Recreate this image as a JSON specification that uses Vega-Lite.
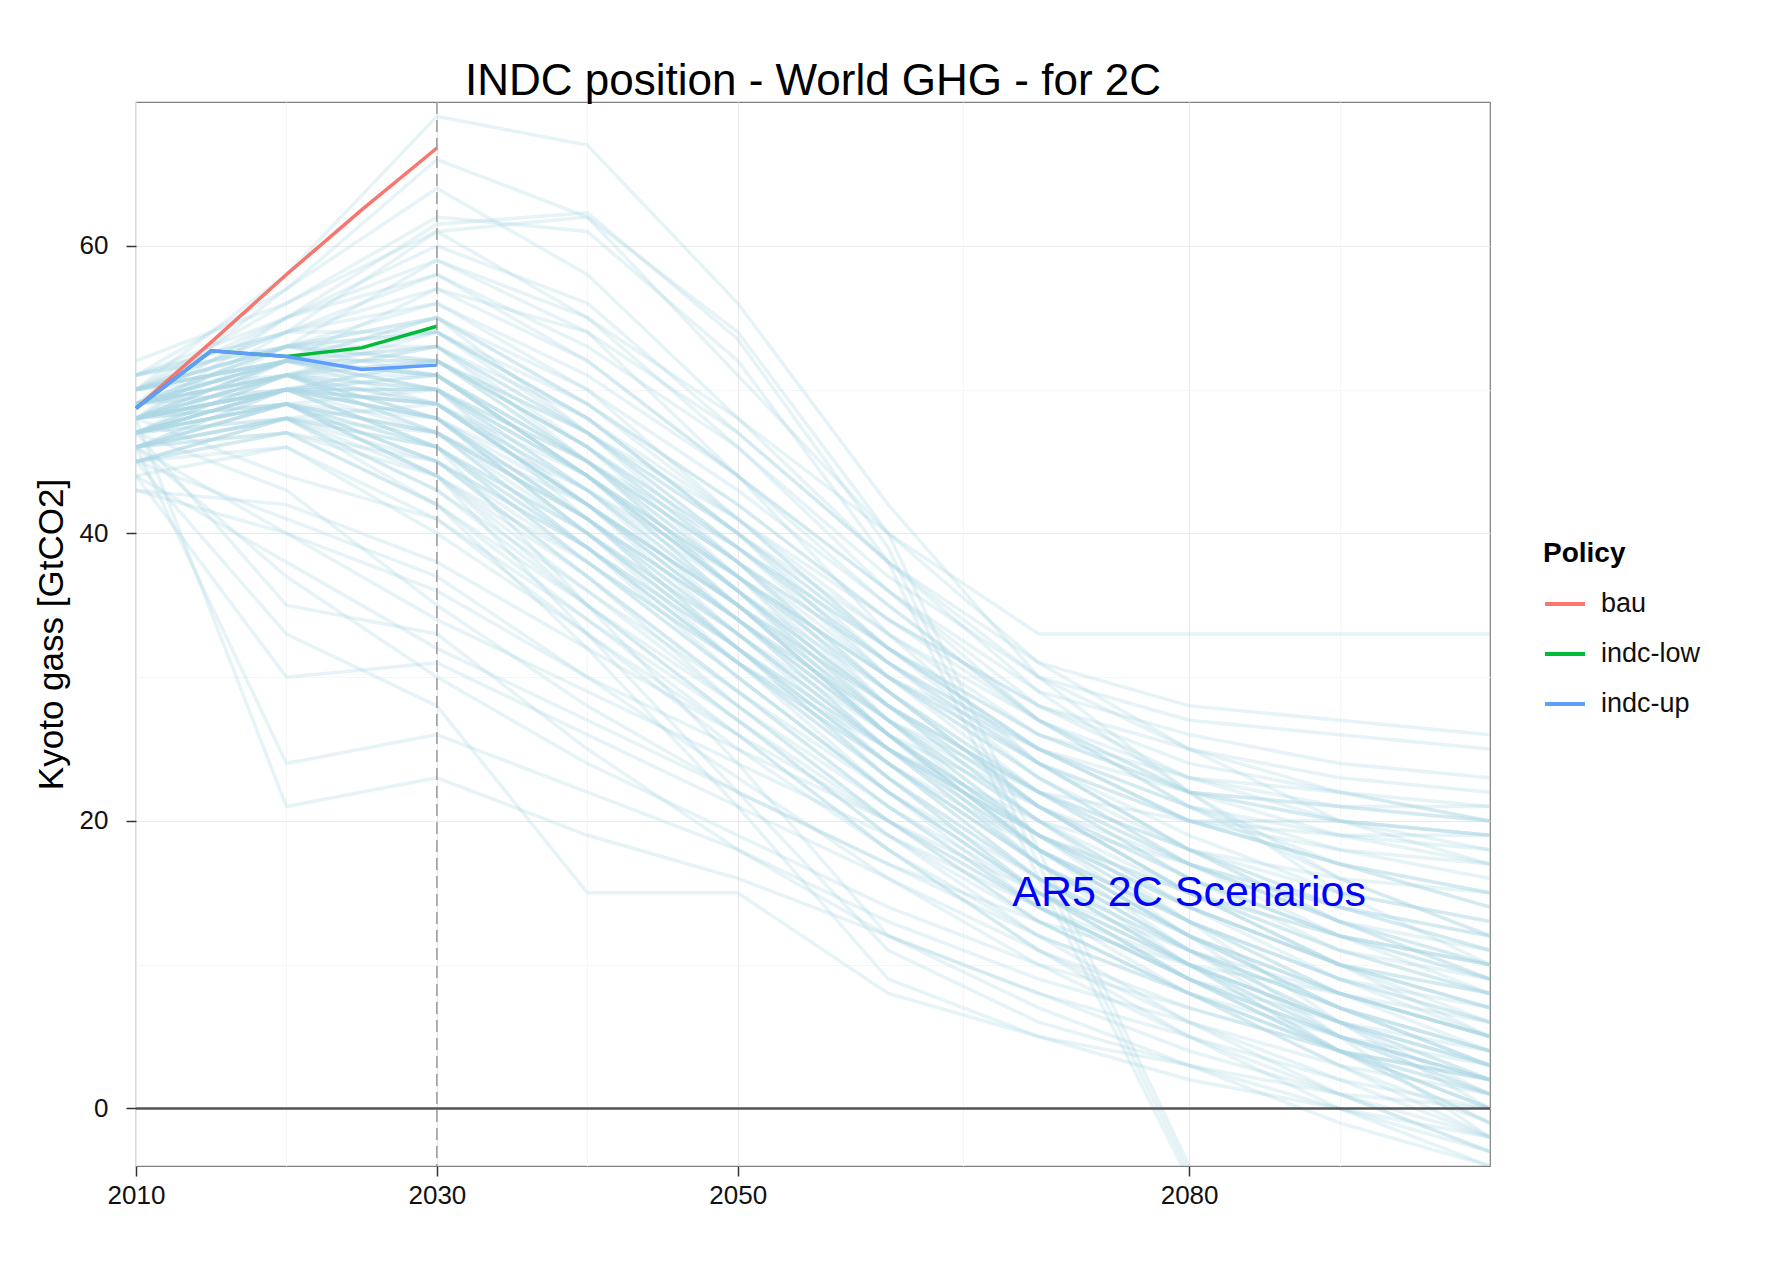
{
  "$schema": "https://vega.github.io/schema/vega-lite/v6.json",
  "width": 1354,
  "height": 1064,
  "autosize": "none",
  "padding": {"left": 136, "top": 102, "right": 302, "bottom": 106},
  "background": "white",
  "title": {"text": "INDC position - World GHG - for 2C", "fontSize": 44, "font": "Liberation Sans", "fontWeight": "normal", "color": "#000000", "offset": -3, "anchor": "middle", "frame": "group"},
  "config": {
    "view": {"stroke": "#7f7f7f", "strokeWidth": 1.2},
    "axis": {"labelFont": "Liberation Sans", "titleFont": "Liberation Sans", "labelColor": "#111111", "titleColor": "#000000"}
  },
  "datasets": {
    "scen": [
      {"s":"H1","t":2010,"v":49},{"s":"H1","t":2020,"v":55},{"s":"H1","t":2030,"v":61.5},{"s":"H1","t":2040,"v":62.3},{"s":"H1","t":2050,"v":53.5},{"s":"H1","t":2060,"v":39},{"s":"H1","t":2070,"v":17},{"s":"H1","t":2080,"v":-4.5},{"s":"H1","t":2090,"v":-15},{"s":"H1","t":2100,"v":-20},
      {"s":"H2","t":2010,"v":48},{"s":"H2","t":2020,"v":54},{"s":"H2","t":2030,"v":61},{"s":"H2","t":2040,"v":62},{"s":"H2","t":2050,"v":54},{"s":"H2","t":2060,"v":40},{"s":"H2","t":2070,"v":18},{"s":"H2","t":2080,"v":-4},{"s":"H2","t":2090,"v":-14},{"s":"H2","t":2100,"v":-20},
      {"s":"H3","t":2010,"v":50},{"s":"H3","t":2020,"v":56},{"s":"H3","t":2030,"v":62},{"s":"H3","t":2040,"v":61},{"s":"H3","t":2050,"v":52},{"s":"H3","t":2060,"v":38},{"s":"H3","t":2070,"v":16},{"s":"H3","t":2080,"v":-5},{"s":"H3","t":2090,"v":-15},{"s":"H3","t":2100,"v":-20},
      {"s":"H4","t":2010,"v":50},{"s":"H4","t":2020,"v":58},{"s":"H4","t":2030,"v":69},{"s":"H4","t":2040,"v":67},{"s":"H4","t":2050,"v":56},{"s":"H4","t":2060,"v":42},{"s":"H4","t":2070,"v":30},{"s":"H4","t":2080,"v":22},{"s":"H4","t":2090,"v":15},{"s":"H4","t":2100,"v":10},
      {"s":"H5","t":2010,"v":49},{"s":"H5","t":2020,"v":57},{"s":"H5","t":2030,"v":66},{"s":"H5","t":2040,"v":62},{"s":"H5","t":2050,"v":51},{"s":"H5","t":2060,"v":40},{"s":"H5","t":2070,"v":31},{"s":"H5","t":2080,"v":25},{"s":"H5","t":2090,"v":20},{"s":"H5","t":2100,"v":17},
      {"s":"H6","t":2010,"v":51},{"s":"H6","t":2020,"v":57},{"s":"H6","t":2030,"v":64},{"s":"H6","t":2040,"v":58},{"s":"H6","t":2050,"v":48},{"s":"H6","t":2060,"v":38},{"s":"H6","t":2070,"v":29},{"s":"H6","t":2080,"v":22},{"s":"H6","t":2090,"v":16},{"s":"H6","t":2100,"v":12},
      {"s":"H7","t":2010,"v":48},{"s":"H7","t":2020,"v":55},{"s":"H7","t":2030,"v":60},{"s":"H7","t":2040,"v":56},{"s":"H7","t":2050,"v":47},{"s":"H7","t":2060,"v":38},{"s":"H7","t":2070,"v":30},{"s":"H7","t":2080,"v":25},{"s":"H7","t":2090,"v":22},{"s":"H7","t":2100,"v":20},
      {"s":"H8","t":2010,"v":52},{"s":"H8","t":2020,"v":56},{"s":"H8","t":2030,"v":61},{"s":"H8","t":2040,"v":55},{"s":"H8","t":2050,"v":46},{"s":"H8","t":2060,"v":36},{"s":"H8","t":2070,"v":27},{"s":"H8","t":2080,"v":21},{"s":"H8","t":2090,"v":17},{"s":"H8","t":2100,"v":14},
      {"s":"H9","t":2010,"v":50},{"s":"H9","t":2020,"v":55},{"s":"H9","t":2030,"v":59},{"s":"H9","t":2040,"v":54},{"s":"H9","t":2050,"v":44},{"s":"H9","t":2060,"v":33},{"s":"H9","t":2070,"v":24},{"s":"H9","t":2080,"v":18},{"s":"H9","t":2090,"v":13},{"s":"H9","t":2100,"v":9},
      {"s":"M1","t":2010,"v":48},{"s":"M1","t":2020,"v":52},{"s":"M1","t":2030,"v":55},{"s":"M1","t":2040,"v":47},{"s":"M1","t":2050,"v":38},{"s":"M1","t":2060,"v":28},{"s":"M1","t":2070,"v":20},{"s":"M1","t":2080,"v":14},{"s":"M1","t":2090,"v":10},{"s":"M1","t":2100,"v":7},
      {"s":"M2","t":2010,"v":47},{"s":"M2","t":2020,"v":51},{"s":"M2","t":2030,"v":53},{"s":"M2","t":2040,"v":45},{"s":"M2","t":2050,"v":36},{"s":"M2","t":2060,"v":27},{"s":"M2","t":2070,"v":19},{"s":"M2","t":2080,"v":13},{"s":"M2","t":2090,"v":8},{"s":"M2","t":2100,"v":5},
      {"s":"M3","t":2010,"v":49},{"s":"M3","t":2020,"v":53},{"s":"M3","t":2030,"v":54},{"s":"M3","t":2040,"v":48},{"s":"M3","t":2050,"v":40},{"s":"M3","t":2060,"v":30},{"s":"M3","t":2070,"v":22},{"s":"M3","t":2080,"v":16},{"s":"M3","t":2090,"v":12},{"s":"M3","t":2100,"v":9},
      {"s":"M4","t":2010,"v":46},{"s":"M4","t":2020,"v":50},{"s":"M4","t":2030,"v":50},{"s":"M4","t":2040,"v":42},{"s":"M4","t":2050,"v":34},{"s":"M4","t":2060,"v":25},{"s":"M4","t":2070,"v":17},{"s":"M4","t":2080,"v":11},{"s":"M4","t":2090,"v":7},{"s":"M4","t":2100,"v":4},
      {"s":"M5","t":2010,"v":48},{"s":"M5","t":2020,"v":50},{"s":"M5","t":2030,"v":48},{"s":"M5","t":2040,"v":40},{"s":"M5","t":2050,"v":32},{"s":"M5","t":2060,"v":24},{"s":"M5","t":2070,"v":17},{"s":"M5","t":2080,"v":12},{"s":"M5","t":2090,"v":8},{"s":"M5","t":2100,"v":5},
      {"s":"M6","t":2010,"v":50},{"s":"M6","t":2020,"v":52},{"s":"M6","t":2030,"v":52},{"s":"M6","t":2040,"v":46},{"s":"M6","t":2050,"v":38},{"s":"M6","t":2060,"v":29},{"s":"M6","t":2070,"v":21},{"s":"M6","t":2080,"v":15},{"s":"M6","t":2090,"v":11},{"s":"M6","t":2100,"v":8},
      {"s":"M7","t":2010,"v":45},{"s":"M7","t":2020,"v":48},{"s":"M7","t":2030,"v":46},{"s":"M7","t":2040,"v":39},{"s":"M7","t":2050,"v":31},{"s":"M7","t":2060,"v":23},{"s":"M7","t":2070,"v":16},{"s":"M7","t":2080,"v":10},{"s":"M7","t":2090,"v":5},{"s":"M7","t":2100,"v":2},
      {"s":"M8","t":2010,"v":47},{"s":"M8","t":2020,"v":49},{"s":"M8","t":2030,"v":45},{"s":"M8","t":2040,"v":37},{"s":"M8","t":2050,"v":29},{"s":"M8","t":2060,"v":21},{"s":"M8","t":2070,"v":14},{"s":"M8","t":2080,"v":9},{"s":"M8","t":2090,"v":5},{"s":"M8","t":2100,"v":1},
      {"s":"M9","t":2010,"v":49},{"s":"M9","t":2020,"v":51},{"s":"M9","t":2030,"v":49},{"s":"M9","t":2040,"v":43},{"s":"M9","t":2050,"v":36},{"s":"M9","t":2060,"v":28},{"s":"M9","t":2070,"v":22},{"s":"M9","t":2080,"v":18},{"s":"M9","t":2090,"v":16},{"s":"M9","t":2100,"v":15},
      {"s":"M10","t":2010,"v":51},{"s":"M10","t":2020,"v":54},{"s":"M10","t":2030,"v":56},{"s":"M10","t":2040,"v":50},{"s":"M10","t":2050,"v":41},{"s":"M10","t":2060,"v":32},{"s":"M10","t":2070,"v":25},{"s":"M10","t":2080,"v":20},{"s":"M10","t":2090,"v":19},{"s":"M10","t":2100,"v":19},
      {"s":"M11","t":2010,"v":48},{"s":"M11","t":2020,"v":52},{"s":"M11","t":2030,"v":53},{"s":"M11","t":2040,"v":47},{"s":"M11","t":2050,"v":40},{"s":"M11","t":2060,"v":33},{"s":"M11","t":2070,"v":27},{"s":"M11","t":2080,"v":23},{"s":"M11","t":2090,"v":21},{"s":"M11","t":2100,"v":20},
      {"s":"M12","t":2010,"v":46},{"s":"M12","t":2020,"v":49},{"s":"M12","t":2030,"v":47},{"s":"M12","t":2040,"v":41},{"s":"M12","t":2050,"v":34},{"s":"M12","t":2060,"v":27},{"s":"M12","t":2070,"v":22},{"s":"M12","t":2080,"v":20},{"s":"M12","t":2090,"v":20},{"s":"M12","t":2100,"v":19},
      {"s":"M13","t":2010,"v":47},{"s":"M13","t":2020,"v":50},{"s":"M13","t":2030,"v":51},{"s":"M13","t":2040,"v":44},{"s":"M13","t":2050,"v":37},{"s":"M13","t":2060,"v":30},{"s":"M13","t":2070,"v":25},{"s":"M13","t":2080,"v":22},{"s":"M13","t":2090,"v":21},{"s":"M13","t":2100,"v":21},
      {"s":"M14","t":2010,"v":50},{"s":"M14","t":2020,"v":53},{"s":"M14","t":2030,"v":55},{"s":"M14","t":2040,"v":49},{"s":"M14","t":2050,"v":42},{"s":"M14","t":2060,"v":34},{"s":"M14","t":2070,"v":28},{"s":"M14","t":2080,"v":25},{"s":"M14","t":2090,"v":23},{"s":"M14","t":2100,"v":22},
      {"s":"M15","t":2010,"v":45},{"s":"M15","t":2020,"v":47},{"s":"M15","t":2030,"v":44},{"s":"M15","t":2040,"v":38},{"s":"M15","t":2050,"v":31},{"s":"M15","t":2060,"v":25},{"s":"M15","t":2070,"v":20},{"s":"M15","t":2080,"v":17},{"s":"M15","t":2090,"v":14},{"s":"M15","t":2100,"v":12},
      {"s":"M16","t":2010,"v":48},{"s":"M16","t":2020,"v":50},{"s":"M16","t":2030,"v":47},{"s":"M16","t":2040,"v":42},{"s":"M16","t":2050,"v":35},{"s":"M16","t":2060,"v":26},{"s":"M16","t":2070,"v":18},{"s":"M16","t":2080,"v":12},{"s":"M16","t":2090,"v":7},{"s":"M16","t":2100,"v":3},
      {"s":"M17","t":2010,"v":49},{"s":"M17","t":2020,"v":50},{"s":"M17","t":2030,"v":46},{"s":"M17","t":2040,"v":38},{"s":"M17","t":2050,"v":30},{"s":"M17","t":2060,"v":22},{"s":"M17","t":2070,"v":15},{"s":"M17","t":2080,"v":9},{"s":"M17","t":2090,"v":4},{"s":"M17","t":2100,"v":0},
      {"s":"M18","t":2010,"v":47},{"s":"M18","t":2020,"v":49},{"s":"M18","t":2030,"v":44},{"s":"M18","t":2040,"v":35},{"s":"M18","t":2050,"v":27},{"s":"M18","t":2060,"v":19},{"s":"M18","t":2070,"v":12},{"s":"M18","t":2080,"v":6},{"s":"M18","t":2090,"v":1},{"s":"M18","t":2100,"v":-3},
      {"s":"M19","t":2010,"v":46},{"s":"M19","t":2020,"v":48},{"s":"M19","t":2030,"v":42},{"s":"M19","t":2040,"v":34},{"s":"M19","t":2050,"v":26},{"s":"M19","t":2060,"v":18},{"s":"M19","t":2070,"v":11},{"s":"M19","t":2080,"v":5},{"s":"M19","t":2090,"v":0},{"s":"M19","t":2100,"v":-4},
      {"s":"M20","t":2010,"v":50},{"s":"M20","t":2020,"v":52},{"s":"M20","t":2030,"v":50},{"s":"M20","t":2040,"v":44},{"s":"M20","t":2050,"v":36},{"s":"M20","t":2060,"v":27},{"s":"M20","t":2070,"v":19},{"s":"M20","t":2080,"v":12},{"s":"M20","t":2090,"v":5},{"s":"M20","t":2100,"v":-2},
      {"s":"M21","t":2010,"v":48},{"s":"M21","t":2020,"v":51},{"s":"M21","t":2030,"v":51},{"s":"M21","t":2040,"v":45},{"s":"M21","t":2050,"v":37},{"s":"M21","t":2060,"v":28},{"s":"M21","t":2070,"v":20},{"s":"M21","t":2080,"v":13},{"s":"M21","t":2090,"v":6},{"s":"M21","t":2100,"v":0},
      {"s":"M22","t":2010,"v":49},{"s":"M22","t":2020,"v":52},{"s":"M22","t":2030,"v":53},{"s":"M22","t":2040,"v":46},{"s":"M22","t":2050,"v":37},{"s":"M22","t":2060,"v":27},{"s":"M22","t":2070,"v":18},{"s":"M22","t":2080,"v":11},{"s":"M22","t":2090,"v":5},{"s":"M22","t":2100,"v":1},
      {"s":"M23","t":2010,"v":47},{"s":"M23","t":2020,"v":50},{"s":"M23","t":2030,"v":49},{"s":"M23","t":2040,"v":42},{"s":"M23","t":2050,"v":33},{"s":"M23","t":2060,"v":24},{"s":"M23","t":2070,"v":16},{"s":"M23","t":2080,"v":10},{"s":"M23","t":2090,"v":5},{"s":"M23","t":2100,"v":2},
      {"s":"M24","t":2010,"v":51},{"s":"M24","t":2020,"v":53},{"s":"M24","t":2030,"v":51},{"s":"M24","t":2040,"v":44},{"s":"M24","t":2050,"v":35},{"s":"M24","t":2060,"v":26},{"s":"M24","t":2070,"v":18},{"s":"M24","t":2080,"v":13},{"s":"M24","t":2090,"v":9},{"s":"M24","t":2100,"v":6},
      {"s":"M25","t":2010,"v":45},{"s":"M25","t":2020,"v":46},{"s":"M25","t":2030,"v":41},{"s":"M25","t":2040,"v":34},{"s":"M25","t":2050,"v":27},{"s":"M25","t":2060,"v":20},{"s":"M25","t":2070,"v":14},{"s":"M25","t":2080,"v":9},{"s":"M25","t":2090,"v":6},{"s":"M25","t":2100,"v":3},
      {"s":"M26","t":2010,"v":44},{"s":"M26","t":2020,"v":46},{"s":"M26","t":2030,"v":40},{"s":"M26","t":2040,"v":33},{"s":"M26","t":2050,"v":25},{"s":"M26","t":2060,"v":18},{"s":"M26","t":2070,"v":12},{"s":"M26","t":2080,"v":8},{"s":"M26","t":2090,"v":5},{"s":"M26","t":2100,"v":3},
      {"s":"M27","t":2010,"v":48},{"s":"M27","t":2020,"v":51},{"s":"M27","t":2030,"v":48},{"s":"M27","t":2040,"v":40},{"s":"M27","t":2050,"v":32},{"s":"M27","t":2060,"v":24},{"s":"M27","t":2070,"v":16},{"s":"M27","t":2080,"v":10},{"s":"M27","t":2090,"v":4},{"s":"M27","t":2100,"v":-1},
      {"s":"M28","t":2010,"v":49},{"s":"M28","t":2020,"v":52},{"s":"M28","t":2030,"v":50},{"s":"M28","t":2040,"v":41},{"s":"M28","t":2050,"v":33},{"s":"M28","t":2060,"v":25},{"s":"M28","t":2070,"v":19},{"s":"M28","t":2080,"v":15},{"s":"M28","t":2090,"v":12},{"s":"M28","t":2100,"v":10},
      {"s":"M29","t":2010,"v":47},{"s":"M29","t":2020,"v":50},{"s":"M29","t":2030,"v":52},{"s":"M29","t":2040,"v":46},{"s":"M29","t":2050,"v":39},{"s":"M29","t":2060,"v":31},{"s":"M29","t":2070,"v":24},{"s":"M29","t":2080,"v":19},{"s":"M29","t":2090,"v":15},{"s":"M29","t":2100,"v":13},
      {"s":"M30","t":2010,"v":50},{"s":"M30","t":2020,"v":53},{"s":"M30","t":2030,"v":54},{"s":"M30","t":2040,"v":47},{"s":"M30","t":2050,"v":39},{"s":"M30","t":2060,"v":30},{"s":"M30","t":2070,"v":23},{"s":"M30","t":2080,"v":18},{"s":"M30","t":2090,"v":14},{"s":"M30","t":2100,"v":11},
      {"s":"M31","t":2010,"v":46},{"s":"M31","t":2020,"v":49},{"s":"M31","t":2030,"v":50},{"s":"M31","t":2040,"v":45},{"s":"M31","t":2050,"v":38},{"s":"M31","t":2060,"v":30},{"s":"M31","t":2070,"v":23},{"s":"M31","t":2080,"v":17},{"s":"M31","t":2090,"v":13},{"s":"M31","t":2100,"v":10},
      {"s":"M32","t":2010,"v":48},{"s":"M32","t":2020,"v":49},{"s":"M32","t":2030,"v":45},{"s":"M32","t":2040,"v":37},{"s":"M32","t":2050,"v":28},{"s":"M32","t":2060,"v":20},{"s":"M32","t":2070,"v":13},{"s":"M32","t":2080,"v":8},{"s":"M32","t":2090,"v":4},{"s":"M32","t":2100,"v":2},
      {"s":"M33","t":2010,"v":49},{"s":"M33","t":2020,"v":51},{"s":"M33","t":2030,"v":47},{"s":"M33","t":2040,"v":39},{"s":"M33","t":2050,"v":30},{"s":"M33","t":2060,"v":22},{"s":"M33","t":2070,"v":15},{"s":"M33","t":2080,"v":10},{"s":"M33","t":2090,"v":6},{"s":"M33","t":2100,"v":4},
      {"s":"M34","t":2010,"v":47},{"s":"M34","t":2020,"v":48},{"s":"M34","t":2030,"v":43},{"s":"M34","t":2040,"v":36},{"s":"M34","t":2050,"v":29},{"s":"M34","t":2060,"v":22},{"s":"M34","t":2070,"v":16},{"s":"M34","t":2080,"v":11},{"s":"M34","t":2090,"v":7},{"s":"M34","t":2100,"v":4},
      {"s":"M35","t":2010,"v":50},{"s":"M35","t":2020,"v":51},{"s":"M35","t":2030,"v":48},{"s":"M35","t":2040,"v":41},{"s":"M35","t":2050,"v":33},{"s":"M35","t":2060,"v":25},{"s":"M35","t":2070,"v":18},{"s":"M35","t":2080,"v":13},{"s":"M35","t":2090,"v":9},{"s":"M35","t":2100,"v":7},
      {"s":"M36","t":2010,"v":48},{"s":"M36","t":2020,"v":51},{"s":"M36","t":2030,"v":52},{"s":"M36","t":2040,"v":47},{"s":"M36","t":2050,"v":41},{"s":"M36","t":2060,"v":34},{"s":"M36","t":2070,"v":28},{"s":"M36","t":2080,"v":24},{"s":"M36","t":2090,"v":22},{"s":"M36","t":2100,"v":20},
      {"s":"M37","t":2010,"v":49},{"s":"M37","t":2020,"v":53},{"s":"M37","t":2030,"v":56},{"s":"M37","t":2040,"v":51},{"s":"M37","t":2050,"v":44},{"s":"M37","t":2060,"v":36},{"s":"M37","t":2070,"v":29},{"s":"M37","t":2080,"v":26},{"s":"M37","t":2090,"v":24},{"s":"M37","t":2100,"v":23},
      {"s":"M38","t":2010,"v":51},{"s":"M38","t":2020,"v":55},{"s":"M38","t":2030,"v":58},{"s":"M38","t":2040,"v":53},{"s":"M38","t":2050,"v":46},{"s":"M38","t":2060,"v":37},{"s":"M38","t":2070,"v":30},{"s":"M38","t":2080,"v":27},{"s":"M38","t":2090,"v":26},{"s":"M38","t":2100,"v":25},
      {"s":"M39","t":2010,"v":47},{"s":"M39","t":2020,"v":52},{"s":"M39","t":2030,"v":57},{"s":"M39","t":2040,"v":54},{"s":"M39","t":2050,"v":47},{"s":"M39","t":2060,"v":38},{"s":"M39","t":2070,"v":31},{"s":"M39","t":2080,"v":28},{"s":"M39","t":2090,"v":27},{"s":"M39","t":2100,"v":26},
      {"s":"M40","t":2010,"v":48},{"s":"M40","t":2020,"v":53},{"s":"M40","t":2030,"v":59},{"s":"M40","t":2040,"v":55},{"s":"M40","t":2050,"v":48},{"s":"M40","t":2060,"v":40},{"s":"M40","t":2070,"v":33},{"s":"M40","t":2080,"v":33},{"s":"M40","t":2090,"v":33},{"s":"M40","t":2100,"v":33},
      {"s":"M41","t":2010,"v":50},{"s":"M41","t":2020,"v":54},{"s":"M41","t":2030,"v":58},{"s":"M41","t":2040,"v":52},{"s":"M41","t":2050,"v":44},{"s":"M41","t":2060,"v":35},{"s":"M41","t":2070,"v":27},{"s":"M41","t":2080,"v":22},{"s":"M41","t":2090,"v":19},{"s":"M41","t":2100,"v":17},
      {"s":"M42","t":2010,"v":46},{"s":"M42","t":2020,"v":50},{"s":"M42","t":2030,"v":52},{"s":"M42","t":2040,"v":47},{"s":"M42","t":2050,"v":40},{"s":"M42","t":2060,"v":32},{"s":"M42","t":2070,"v":25},{"s":"M42","t":2080,"v":20},{"s":"M42","t":2090,"v":17},{"s":"M42","t":2100,"v":14},
      {"s":"M43","t":2010,"v":49},{"s":"M43","t":2020,"v":52},{"s":"M43","t":2030,"v":51},{"s":"M43","t":2040,"v":45},{"s":"M43","t":2050,"v":38},{"s":"M43","t":2060,"v":31},{"s":"M43","t":2070,"v":25},{"s":"M43","t":2080,"v":21},{"s":"M43","t":2090,"v":18},{"s":"M43","t":2100,"v":16},
      {"s":"M44","t":2010,"v":47},{"s":"M44","t":2020,"v":49},{"s":"M44","t":2030,"v":46},{"s":"M44","t":2040,"v":40},{"s":"M44","t":2050,"v":33},{"s":"M44","t":2060,"v":26},{"s":"M44","t":2070,"v":21},{"s":"M44","t":2080,"v":17},{"s":"M44","t":2090,"v":14},{"s":"M44","t":2100,"v":12},
      {"s":"M45","t":2010,"v":45},{"s":"M45","t":2020,"v":48},{"s":"M45","t":2030,"v":47},{"s":"M45","t":2040,"v":41},{"s":"M45","t":2050,"v":34},{"s":"M45","t":2060,"v":26},{"s":"M45","t":2070,"v":19},{"s":"M45","t":2080,"v":14},{"s":"M45","t":2090,"v":10},{"s":"M45","t":2100,"v":8},
      {"s":"M46","t":2010,"v":48},{"s":"M46","t":2020,"v":50},{"s":"M46","t":2030,"v":48},{"s":"M46","t":2040,"v":43},{"s":"M46","t":2050,"v":37},{"s":"M46","t":2060,"v":30},{"s":"M46","t":2070,"v":24},{"s":"M46","t":2080,"v":20},{"s":"M46","t":2090,"v":18},{"s":"M46","t":2100,"v":17},
      {"s":"M47","t":2010,"v":50},{"s":"M47","t":2020,"v":52},{"s":"M47","t":2030,"v":51},{"s":"M47","t":2040,"v":45},{"s":"M47","t":2050,"v":39},{"s":"M47","t":2060,"v":32},{"s":"M47","t":2070,"v":26},{"s":"M47","t":2080,"v":22},{"s":"M47","t":2090,"v":20},{"s":"M47","t":2100,"v":19},
      {"s":"M48","t":2010,"v":46},{"s":"M48","t":2020,"v":48},{"s":"M48","t":2030,"v":45},{"s":"M48","t":2040,"v":39},{"s":"M48","t":2050,"v":32},{"s":"M48","t":2060,"v":25},{"s":"M48","t":2070,"v":19},{"s":"M48","t":2080,"v":15},{"s":"M48","t":2090,"v":12},{"s":"M48","t":2100,"v":10},
      {"s":"M49","t":2010,"v":49},{"s":"M49","t":2020,"v":51},{"s":"M49","t":2030,"v":50},{"s":"M49","t":2040,"v":44},{"s":"M49","t":2050,"v":36},{"s":"M49","t":2060,"v":29},{"s":"M49","t":2070,"v":22},{"s":"M49","t":2080,"v":17},{"s":"M49","t":2090,"v":13},{"s":"M49","t":2100,"v":11},
      {"s":"M50","t":2010,"v":47},{"s":"M50","t":2020,"v":50},{"s":"M50","t":2030,"v":49},{"s":"M50","t":2040,"v":43},{"s":"M50","t":2050,"v":35},{"s":"M50","t":2060,"v":27},{"s":"M50","t":2070,"v":20},{"s":"M50","t":2080,"v":15},{"s":"M50","t":2090,"v":11},{"s":"M50","t":2100,"v":9},
      {"s":"M51","t":2010,"v":47},{"s":"M51","t":2020,"v":49},{"s":"M51","t":2030,"v":44},{"s":"M51","t":2040,"v":33},{"s":"M51","t":2050,"v":22},{"s":"M51","t":2060,"v":11},{"s":"M51","t":2070,"v":6},{"s":"M51","t":2080,"v":3},{"s":"M51","t":2090,"v":0},{"s":"M51","t":2100,"v":-3},
      {"s":"M52","t":2010,"v":48},{"s":"M52","t":2020,"v":50},{"s":"M52","t":2030,"v":46},{"s":"M52","t":2040,"v":35},{"s":"M52","t":2050,"v":24},{"s":"M52","t":2060,"v":12},{"s":"M52","t":2070,"v":7},{"s":"M52","t":2080,"v":3},{"s":"M52","t":2090,"v":-1},{"s":"M52","t":2100,"v":-4},
      {"s":"M53","t":2010,"v":46},{"s":"M53","t":2020,"v":47},{"s":"M53","t":2030,"v":42},{"s":"M53","t":2040,"v":32},{"s":"M53","t":2050,"v":21},{"s":"M53","t":2060,"v":9},{"s":"M53","t":2070,"v":5},{"s":"M53","t":2080,"v":2},{"s":"M53","t":2090,"v":0},{"s":"M53","t":2100,"v":-2},
      {"s":"N1","t":2010,"v":48},{"s":"N1","t":2020,"v":51},{"s":"N1","t":2030,"v":50},{"s":"N1","t":2040,"v":43},{"s":"N1","t":2050,"v":35},{"s":"N1","t":2060,"v":26},{"s":"N1","t":2070,"v":18},{"s":"N1","t":2080,"v":12},{"s":"N1","t":2090,"v":7},{"s":"N1","t":2100,"v":3},
      {"s":"N2","t":2010,"v":47},{"s":"N2","t":2020,"v":50},{"s":"N2","t":2030,"v":51},{"s":"N2","t":2040,"v":44},{"s":"N2","t":2050,"v":36},{"s":"N2","t":2060,"v":28},{"s":"N2","t":2070,"v":21},{"s":"N2","t":2080,"v":15},{"s":"N2","t":2090,"v":10},{"s":"N2","t":2100,"v":6},
      {"s":"N3","t":2010,"v":49},{"s":"N3","t":2020,"v":52},{"s":"N3","t":2030,"v":52},{"s":"N3","t":2040,"v":45},{"s":"N3","t":2050,"v":36},{"s":"N3","t":2060,"v":26},{"s":"N3","t":2070,"v":17},{"s":"N3","t":2080,"v":10},{"s":"N3","t":2090,"v":4},{"s":"N3","t":2100,"v":-1},
      {"s":"N4","t":2010,"v":50},{"s":"N4","t":2020,"v":53},{"s":"N4","t":2030,"v":53},{"s":"N4","t":2040,"v":47},{"s":"N4","t":2050,"v":39},{"s":"N4","t":2060,"v":31},{"s":"N4","t":2070,"v":24},{"s":"N4","t":2080,"v":18},{"s":"N4","t":2090,"v":13},{"s":"N4","t":2100,"v":9},
      {"s":"N5","t":2010,"v":46},{"s":"N5","t":2020,"v":48},{"s":"N5","t":2030,"v":46},{"s":"N5","t":2040,"v":40},{"s":"N5","t":2050,"v":33},{"s":"N5","t":2060,"v":25},{"s":"N5","t":2070,"v":18},{"s":"N5","t":2080,"v":12},{"s":"N5","t":2090,"v":7},{"s":"N5","t":2100,"v":3},
      {"s":"N6","t":2010,"v":48},{"s":"N6","t":2020,"v":50},{"s":"N6","t":2030,"v":49},{"s":"N6","t":2040,"v":42},{"s":"N6","t":2050,"v":34},{"s":"N6","t":2060,"v":26},{"s":"N6","t":2070,"v":19},{"s":"N6","t":2080,"v":13},{"s":"N6","t":2090,"v":8},{"s":"N6","t":2100,"v":4},
      {"s":"N7","t":2010,"v":49},{"s":"N7","t":2020,"v":51},{"s":"N7","t":2030,"v":48},{"s":"N7","t":2040,"v":41},{"s":"N7","t":2050,"v":32},{"s":"N7","t":2060,"v":23},{"s":"N7","t":2070,"v":15},{"s":"N7","t":2080,"v":9},{"s":"N7","t":2090,"v":4},{"s":"N7","t":2100,"v":0},
      {"s":"N8","t":2010,"v":47},{"s":"N8","t":2020,"v":49},{"s":"N8","t":2030,"v":47},{"s":"N8","t":2040,"v":41},{"s":"N8","t":2050,"v":34},{"s":"N8","t":2060,"v":27},{"s":"N8","t":2070,"v":21},{"s":"N8","t":2080,"v":16},{"s":"N8","t":2090,"v":12},{"s":"N8","t":2100,"v":9},
      {"s":"N9","t":2010,"v":51},{"s":"N9","t":2020,"v":54},{"s":"N9","t":2030,"v":54},{"s":"N9","t":2040,"v":48},{"s":"N9","t":2050,"v":40},{"s":"N9","t":2060,"v":31},{"s":"N9","t":2070,"v":23},{"s":"N9","t":2080,"v":17},{"s":"N9","t":2090,"v":12},{"s":"N9","t":2100,"v":8},
      {"s":"N10","t":2010,"v":45},{"s":"N10","t":2020,"v":47},{"s":"N10","t":2030,"v":45},{"s":"N10","t":2040,"v":39},{"s":"N10","t":2050,"v":31},{"s":"N10","t":2060,"v":23},{"s":"N10","t":2070,"v":16},{"s":"N10","t":2080,"v":11},{"s":"N10","t":2090,"v":7},{"s":"N10","t":2100,"v":4},
      {"s":"N11","t":2010,"v":48},{"s":"N11","t":2020,"v":51},{"s":"N11","t":2030,"v":52},{"s":"N11","t":2040,"v":46},{"s":"N11","t":2050,"v":38},{"s":"N11","t":2060,"v":29},{"s":"N11","t":2070,"v":21},{"s":"N11","t":2080,"v":15},{"s":"N11","t":2090,"v":10},{"s":"N11","t":2100,"v":7},
      {"s":"N12","t":2010,"v":49},{"s":"N12","t":2020,"v":52},{"s":"N12","t":2030,"v":50},{"s":"N12","t":2040,"v":43},{"s":"N12","t":2050,"v":34},{"s":"N12","t":2060,"v":25},{"s":"N12","t":2070,"v":17},{"s":"N12","t":2080,"v":11},{"s":"N12","t":2090,"v":6},{"s":"N12","t":2100,"v":2},
      {"s":"N13","t":2010,"v":47},{"s":"N13","t":2020,"v":50},{"s":"N13","t":2030,"v":48},{"s":"N13","t":2040,"v":40},{"s":"N13","t":2050,"v":31},{"s":"N13","t":2060,"v":22},{"s":"N13","t":2070,"v":14},{"s":"N13","t":2080,"v":8},{"s":"N13","t":2090,"v":3},{"s":"N13","t":2100,"v":-2},
      {"s":"N14","t":2010,"v":50},{"s":"N14","t":2020,"v":52},{"s":"N14","t":2030,"v":49},{"s":"N14","t":2040,"v":42},{"s":"N14","t":2050,"v":34},{"s":"N14","t":2060,"v":26},{"s":"N14","t":2070,"v":19},{"s":"N14","t":2080,"v":14},{"s":"N14","t":2090,"v":10},{"s":"N14","t":2100,"v":7},
      {"s":"N15","t":2010,"v":46},{"s":"N15","t":2020,"v":49},{"s":"N15","t":2030,"v":48},{"s":"N15","t":2040,"v":42},{"s":"N15","t":2050,"v":35},{"s":"N15","t":2060,"v":28},{"s":"N15","t":2070,"v":22},{"s":"N15","t":2080,"v":18},{"s":"N15","t":2090,"v":15},{"s":"N15","t":2100,"v":13},
      {"s":"N16","t":2010,"v":48},{"s":"N16","t":2020,"v":50},{"s":"N16","t":2030,"v":50},{"s":"N16","t":2040,"v":45},{"s":"N16","t":2050,"v":38},{"s":"N16","t":2060,"v":31},{"s":"N16","t":2070,"v":25},{"s":"N16","t":2080,"v":21},{"s":"N16","t":2090,"v":19},{"s":"N16","t":2100,"v":18},
      {"s":"N17","t":2010,"v":49},{"s":"N17","t":2020,"v":53},{"s":"N17","t":2030,"v":55},{"s":"N17","t":2040,"v":49},{"s":"N17","t":2050,"v":42},{"s":"N17","t":2060,"v":34},{"s":"N17","t":2070,"v":27},{"s":"N17","t":2080,"v":22},{"s":"N17","t":2090,"v":20},{"s":"N17","t":2100,"v":19},
      {"s":"N18","t":2010,"v":47},{"s":"N18","t":2020,"v":51},{"s":"N18","t":2030,"v":53},{"s":"N18","t":2040,"v":48},{"s":"N18","t":2050,"v":41},{"s":"N18","t":2060,"v":33},{"s":"N18","t":2070,"v":26},{"s":"N18","t":2080,"v":22},{"s":"N18","t":2090,"v":21},{"s":"N18","t":2100,"v":20},
      {"s":"N19","t":2010,"v":50},{"s":"N19","t":2020,"v":53},{"s":"N19","t":2030,"v":52},{"s":"N19","t":2040,"v":46},{"s":"N19","t":2050,"v":39},{"s":"N19","t":2060,"v":32},{"s":"N19","t":2070,"v":26},{"s":"N19","t":2080,"v":23},{"s":"N19","t":2090,"v":22},{"s":"N19","t":2100,"v":21},
      {"s":"N20","t":2010,"v":48},{"s":"N20","t":2020,"v":52},{"s":"N20","t":2030,"v":54},{"s":"N20","t":2040,"v":48},{"s":"N20","t":2050,"v":40},{"s":"N20","t":2060,"v":32},{"s":"N20","t":2070,"v":25},{"s":"N20","t":2080,"v":20},{"s":"N20","t":2090,"v":17},{"s":"N20","t":2100,"v":15},
      {"s":"N21","t":2010,"v":46},{"s":"N21","t":2020,"v":48},{"s":"N21","t":2030,"v":44},{"s":"N21","t":2040,"v":37},{"s":"N21","t":2050,"v":29},{"s":"N21","t":2060,"v":21},{"s":"N21","t":2070,"v":14},{"s":"N21","t":2080,"v":9},{"s":"N21","t":2090,"v":5},{"s":"N21","t":2100,"v":2},
      {"s":"N22","t":2010,"v":49},{"s":"N22","t":2020,"v":50},{"s":"N22","t":2030,"v":46},{"s":"N22","t":2040,"v":38},{"s":"N22","t":2050,"v":30},{"s":"N22","t":2060,"v":22},{"s":"N22","t":2070,"v":15},{"s":"N22","t":2080,"v":10},{"s":"N22","t":2090,"v":6},{"s":"N22","t":2100,"v":3},
      {"s":"N23","t":2010,"v":47},{"s":"N23","t":2020,"v":48},{"s":"N23","t":2030,"v":43},{"s":"N23","t":2040,"v":35},{"s":"N23","t":2050,"v":27},{"s":"N23","t":2060,"v":19},{"s":"N23","t":2070,"v":13},{"s":"N23","t":2080,"v":8},{"s":"N23","t":2090,"v":4},{"s":"N23","t":2100,"v":1},
      {"s":"N24","t":2010,"v":48},{"s":"N24","t":2020,"v":49},{"s":"N24","t":2030,"v":45},{"s":"N24","t":2040,"v":38},{"s":"N24","t":2050,"v":31},{"s":"N24","t":2060,"v":24},{"s":"N24","t":2070,"v":18},{"s":"N24","t":2080,"v":13},{"s":"N24","t":2090,"v":9},{"s":"N24","t":2100,"v":6},
      {"s":"N25","t":2010,"v":50},{"s":"N25","t":2020,"v":52},{"s":"N25","t":2030,"v":51},{"s":"N25","t":2040,"v":44},{"s":"N25","t":2050,"v":36},{"s":"N25","t":2060,"v":28},{"s":"N25","t":2070,"v":21},{"s":"N25","t":2080,"v":16},{"s":"N25","t":2090,"v":12},{"s":"N25","t":2100,"v":10},
      {"s":"N26","t":2010,"v":45},{"s":"N26","t":2020,"v":48},{"s":"N26","t":2030,"v":49},{"s":"N26","t":2040,"v":44},{"s":"N26","t":2050,"v":37},{"s":"N26","t":2060,"v":29},{"s":"N26","t":2070,"v":22},{"s":"N26","t":2080,"v":16},{"s":"N26","t":2090,"v":11},{"s":"N26","t":2100,"v":8},
      {"s":"N27","t":2010,"v":48},{"s":"N27","t":2020,"v":52},{"s":"N27","t":2030,"v":55},{"s":"N27","t":2040,"v":50},{"s":"N27","t":2050,"v":43},{"s":"N27","t":2060,"v":35},{"s":"N27","t":2070,"v":27},{"s":"N27","t":2080,"v":21},{"s":"N27","t":2090,"v":16},{"s":"N27","t":2100,"v":12},
      {"s":"N28","t":2010,"v":49},{"s":"N28","t":2020,"v":51},{"s":"N28","t":2030,"v":47},{"s":"N28","t":2040,"v":39},{"s":"N28","t":2050,"v":31},{"s":"N28","t":2060,"v":24},{"s":"N28","t":2070,"v":17},{"s":"N28","t":2080,"v":11},{"s":"N28","t":2090,"v":6},{"s":"N28","t":2100,"v":1},
      {"s":"N29","t":2010,"v":46},{"s":"N29","t":2020,"v":47},{"s":"N29","t":2030,"v":42},{"s":"N29","t":2040,"v":35},{"s":"N29","t":2050,"v":28},{"s":"N29","t":2060,"v":21},{"s":"N29","t":2070,"v":15},{"s":"N29","t":2080,"v":10},{"s":"N29","t":2090,"v":6},{"s":"N29","t":2100,"v":2},
      {"s":"N30","t":2010,"v":47},{"s":"N30","t":2020,"v":49},{"s":"N30","t":2030,"v":46},{"s":"N30","t":2040,"v":39},{"s":"N30","t":2050,"v":32},{"s":"N30","t":2060,"v":25},{"s":"N30","t":2070,"v":19},{"s":"N30","t":2080,"v":14},{"s":"N30","t":2090,"v":10},{"s":"N30","t":2100,"v":8},
      {"s":"N31","t":2010,"v":51},{"s":"N31","t":2020,"v":53},{"s":"N31","t":2030,"v":52},{"s":"N31","t":2040,"v":45},{"s":"N31","t":2050,"v":37},{"s":"N31","t":2060,"v":29},{"s":"N31","t":2070,"v":21},{"s":"N31","t":2080,"v":15},{"s":"N31","t":2090,"v":10},{"s":"N31","t":2100,"v":5},
      {"s":"N32","t":2010,"v":48},{"s":"N32","t":2020,"v":50},{"s":"N32","t":2030,"v":49},{"s":"N32","t":2040,"v":42},{"s":"N32","t":2050,"v":35},{"s":"N32","t":2060,"v":27},{"s":"N32","t":2070,"v":20},{"s":"N32","t":2080,"v":14},{"s":"N32","t":2090,"v":9},{"s":"N32","t":2100,"v":5},
      {"s":"N33","t":2010,"v":47},{"s":"N33","t":2020,"v":51},{"s":"N33","t":2030,"v":54},{"s":"N33","t":2040,"v":49},{"s":"N33","t":2050,"v":41},{"s":"N33","t":2060,"v":32},{"s":"N33","t":2070,"v":24},{"s":"N33","t":2080,"v":18},{"s":"N33","t":2090,"v":14},{"s":"N33","t":2100,"v":11},
      {"s":"N34","t":2010,"v":49},{"s":"N34","t":2020,"v":52},{"s":"N34","t":2030,"v":51},{"s":"N34","t":2040,"v":44},{"s":"N34","t":2050,"v":35},{"s":"N34","t":2060,"v":26},{"s":"N34","t":2070,"v":18},{"s":"N34","t":2080,"v":12},{"s":"N34","t":2090,"v":8},{"s":"N34","t":2100,"v":5},
      {"s":"N35","t":2010,"v":46},{"s":"N35","t":2020,"v":49},{"s":"N35","t":2030,"v":47},{"s":"N35","t":2040,"v":40},{"s":"N35","t":2050,"v":32},{"s":"N35","t":2060,"v":24},{"s":"N35","t":2070,"v":17},{"s":"N35","t":2080,"v":12},{"s":"N35","t":2090,"v":8},{"s":"N35","t":2100,"v":5},
      {"s":"N36","t":2010,"v":48},{"s":"N36","t":2020,"v":50},{"s":"N36","t":2030,"v":48},{"s":"N36","t":2040,"v":41},{"s":"N36","t":2050,"v":32},{"s":"N36","t":2060,"v":23},{"s":"N36","t":2070,"v":15},{"s":"N36","t":2080,"v":9},{"s":"N36","t":2090,"v":4},{"s":"N36","t":2100,"v":0},
      {"s":"N37","t":2010,"v":50},{"s":"N37","t":2020,"v":54},{"s":"N37","t":2030,"v":57},{"s":"N37","t":2040,"v":52},{"s":"N37","t":2050,"v":44},{"s":"N37","t":2060,"v":36},{"s":"N37","t":2070,"v":28},{"s":"N37","t":2080,"v":23},{"s":"N37","t":2090,"v":20},{"s":"N37","t":2100,"v":18},
      {"s":"N38","t":2010,"v":47},{"s":"N38","t":2020,"v":50},{"s":"N38","t":2030,"v":50},{"s":"N38","t":2040,"v":44},{"s":"N38","t":2050,"v":37},{"s":"N38","t":2060,"v":30},{"s":"N38","t":2070,"v":24},{"s":"N38","t":2080,"v":20},{"s":"N38","t":2090,"v":17},{"s":"N38","t":2100,"v":15},
      {"s":"N39","t":2010,"v":49},{"s":"N39","t":2020,"v":51},{"s":"N39","t":2030,"v":49},{"s":"N39","t":2040,"v":42},{"s":"N39","t":2050,"v":35},{"s":"N39","t":2060,"v":28},{"s":"N39","t":2070,"v":22},{"s":"N39","t":2080,"v":17},{"s":"N39","t":2090,"v":13},{"s":"N39","t":2100,"v":10},
      {"s":"N40","t":2010,"v":48},{"s":"N40","t":2020,"v":49},{"s":"N40","t":2030,"v":44},{"s":"N40","t":2040,"v":36},{"s":"N40","t":2050,"v":28},{"s":"N40","t":2060,"v":20},{"s":"N40","t":2070,"v":13},{"s":"N40","t":2080,"v":8},{"s":"N40","t":2090,"v":3},{"s":"N40","t":2100,"v":-1},
      {"s":"L1","t":2010,"v":46},{"s":"L1","t":2020,"v":40},{"s":"L1","t":2030,"v":34},{"s":"L1","t":2040,"v":29},{"s":"L1","t":2050,"v":24},{"s":"L1","t":2060,"v":19},{"s":"L1","t":2070,"v":14},{"s":"L1","t":2080,"v":10},{"s":"L1","t":2090,"v":6},{"s":"L1","t":2100,"v":3},
      {"s":"L2","t":2010,"v":44},{"s":"L2","t":2020,"v":38},{"s":"L2","t":2030,"v":32},{"s":"L2","t":2040,"v":27},{"s":"L2","t":2050,"v":22},{"s":"L2","t":2060,"v":17},{"s":"L2","t":2070,"v":12},{"s":"L2","t":2080,"v":8},{"s":"L2","t":2090,"v":4},{"s":"L2","t":2100,"v":1},
      {"s":"L3","t":2010,"v":43},{"s":"L3","t":2020,"v":42},{"s":"L3","t":2030,"v":38},{"s":"L3","t":2040,"v":32},{"s":"L3","t":2050,"v":26},{"s":"L3","t":2060,"v":20},{"s":"L3","t":2070,"v":14},{"s":"L3","t":2080,"v":9},{"s":"L3","t":2090,"v":5},{"s":"L3","t":2100,"v":2},
      {"s":"L4","t":2010,"v":48},{"s":"L4","t":2020,"v":44},{"s":"L4","t":2030,"v":41},{"s":"L4","t":2040,"v":33},{"s":"L4","t":2050,"v":26},{"s":"L4","t":2060,"v":18},{"s":"L4","t":2070,"v":11},{"s":"L4","t":2080,"v":6},{"s":"L4","t":2090,"v":2},{"s":"L4","t":2100,"v":-2},
      {"s":"L5","t":2010,"v":45},{"s":"L5","t":2020,"v":41},{"s":"L5","t":2030,"v":37},{"s":"L5","t":2040,"v":30},{"s":"L5","t":2050,"v":23},{"s":"L5","t":2060,"v":16},{"s":"L5","t":2070,"v":10},{"s":"L5","t":2080,"v":5},{"s":"L5","t":2090,"v":1},{"s":"L5","t":2100,"v":-3},
      {"s":"L6","t":2010,"v":47},{"s":"L6","t":2020,"v":43},{"s":"L6","t":2030,"v":35},{"s":"L6","t":2040,"v":28},{"s":"L6","t":2050,"v":22},{"s":"L6","t":2060,"v":17},{"s":"L6","t":2070,"v":13},{"s":"L6","t":2080,"v":10},{"s":"L6","t":2090,"v":8},{"s":"L6","t":2100,"v":6},
      {"s":"L7","t":2010,"v":46},{"s":"L7","t":2020,"v":24},{"s":"L7","t":2030,"v":26},{"s":"L7","t":2040,"v":22},{"s":"L7","t":2050,"v":18},{"s":"L7","t":2060,"v":13},{"s":"L7","t":2070,"v":9},{"s":"L7","t":2080,"v":6},{"s":"L7","t":2090,"v":3},{"s":"L7","t":2100,"v":1},
      {"s":"L8","t":2010,"v":44},{"s":"L8","t":2020,"v":30},{"s":"L8","t":2030,"v":31},{"s":"L8","t":2040,"v":26},{"s":"L8","t":2050,"v":21},{"s":"L8","t":2060,"v":16},{"s":"L8","t":2070,"v":11},{"s":"L8","t":2080,"v":7},{"s":"L8","t":2090,"v":4},{"s":"L8","t":2100,"v":2},
      {"s":"L9","t":2010,"v":47},{"s":"L9","t":2020,"v":35},{"s":"L9","t":2030,"v":33},{"s":"L9","t":2040,"v":25},{"s":"L9","t":2050,"v":18},{"s":"L9","t":2060,"v":12},{"s":"L9","t":2070,"v":8},{"s":"L9","t":2080,"v":5},{"s":"L9","t":2090,"v":2},{"s":"L9","t":2100,"v":0},
      {"s":"L10","t":2010,"v":48},{"s":"L10","t":2020,"v":21},{"s":"L10","t":2030,"v":23},{"s":"L10","t":2040,"v":19},{"s":"L10","t":2050,"v":16},{"s":"L10","t":2060,"v":12},{"s":"L10","t":2070,"v":8},{"s":"L10","t":2080,"v":4},{"s":"L10","t":2090,"v":1},{"s":"L10","t":2100,"v":-2},
      {"s":"L11","t":2010,"v":45},{"s":"L11","t":2020,"v":33},{"s":"L11","t":2030,"v":28},{"s":"L11","t":2040,"v":15},{"s":"L11","t":2050,"v":15},{"s":"L11","t":2060,"v":8},{"s":"L11","t":2070,"v":5},{"s":"L11","t":2080,"v":3},{"s":"L11","t":2090,"v":1},{"s":"L11","t":2100,"v":0},
      {"s":"L12","t":2010,"v":46},{"s":"L12","t":2020,"v":37},{"s":"L12","t":2030,"v":30},{"s":"L12","t":2040,"v":24},{"s":"L12","t":2050,"v":19},{"s":"L12","t":2060,"v":14},{"s":"L12","t":2070,"v":10},{"s":"L12","t":2080,"v":7},{"s":"L12","t":2090,"v":4},{"s":"L12","t":2100,"v":2},
      {"s":"L13","t":2010,"v":43},{"s":"L13","t":2020,"v":40},{"s":"L13","t":2030,"v":36},{"s":"L13","t":2040,"v":30},{"s":"L13","t":2050,"v":25},{"s":"L13","t":2060,"v":20},{"s":"L13","t":2070,"v":15},{"s":"L13","t":2080,"v":11},{"s":"L13","t":2090,"v":8},{"s":"L13","t":2100,"v":5}
    ],
    "pol": [
      {"p":"bau","t":2010,"v":48.7},{"p":"bau","t":2015,"v":53.3},{"p":"bau","t":2020,"v":58.0},{"p":"bau","t":2025,"v":62.5},{"p":"bau","t":2030,"v":66.8},
      {"p":"indc-low","t":2010,"v":48.7},{"p":"indc-low","t":2015,"v":52.7},{"p":"indc-low","t":2020,"v":52.3},{"p":"indc-low","t":2025,"v":52.9},{"p":"indc-low","t":2030,"v":54.4},
      {"p":"indc-up","t":2010,"v":48.7},{"p":"indc-up","t":2015,"v":52.7},{"p":"indc-up","t":2020,"v":52.3},{"p":"indc-up","t":2025,"v":51.4},{"p":"indc-up","t":2030,"v":51.7}
    ]
  },
  "resolve": {"axis": {"x": "independent", "y": "independent"}},
  "layer": [
    {
      "data": {"name": "scen"},
      "mark": {"type": "line", "color": "#ADD8E6", "opacity": 0.3, "strokeWidth": 3.5, "clip": true},
      "encoding": {
        "x": {"field": "t", "type": "quantitative", "scale": {"domain": [2010, 2100], "nice": false, "zero": false},
              "axis": {"values": [2010, 2030, 2050, 2080], "format": "d", "title": null, "grid": true, "gridColor": "#EBEBEB", "gridWidth": 1.2, "domain": false, "ticks": true, "tickColor": "#333333", "tickSize": 10, "tickWidth": 1.5, "labelFontSize": 26, "labelPadding": 6, "labelFlush": false, "labelColor": "#111111"}},
        "y": {"field": "v", "type": "quantitative", "scale": {"domain": [-4, 70], "nice": false, "zero": false},
              "axis": {"values": [0, 20, 40, 60], "title": "Kyoto gass [GtCO2]", "titleFontSize": 35, "titleFontWeight": "normal", "titlePadding": 10, "grid": true, "gridColor": "#EBEBEB", "gridWidth": 1.2, "domain": false, "ticks": true, "tickColor": "#333333", "tickSize": 10, "tickWidth": 1.5, "labelFontSize": 26, "labelPadding": 18, "labelFlush": false, "labelColor": "#111111"}},
        "detail": {"field": "s"}
      }
    },
    {
      "data": {"values": [{}]},
      "mark": {"type": "rule", "color": "#555555", "strokeWidth": 2.5},
      "encoding": {"y": {"datum": 0, "type": "quantitative", "axis": null}}
    },
    {
      "data": {"name": "pol"},
      "mark": {"type": "line", "strokeWidth": 3.5},
      "encoding": {
        "x": {"field": "t", "type": "quantitative", "axis": {"orient": "top", "values": [2020, 2040, 2065, 2090], "grid": true, "gridColor": "#F6F6F6", "labels": false, "ticks": false, "domain": false, "title": null}},
        "y": {"field": "v", "type": "quantitative", "axis": {"orient": "right", "values": [10, 30, 50], "grid": true, "gridColor": "#F6F6F6", "labels": false, "ticks": false, "domain": false, "title": null}},
        "color": {"field": "p", "type": "nominal", "title": "Policy",
                  "scale": {"domain": ["bau", "indc-low", "indc-up"], "range": ["#F8766D", "#00BA38", "#619CFF"]},
                  "legend": {"orient": "none", "legendX": 1407, "legendY": 438, "symbolType": "stroke", "symbolSize": 1600, "symbolStrokeWidth": 4, "rowPadding": 15, "labelOffset": 14, "labelFontSize": 27, "labelFont": "Liberation Sans", "labelColor": "#111111", "titleFontSize": 28, "titleFont": "Liberation Sans", "titleFontWeight": "bold", "titleColor": "#000000", "titlePadding": 14}}
      }
    },
    {
      "data": {"values": [{}]},
      "mark": {"type": "rule", "color": "#999999", "strokeWidth": 1.5, "strokeDash": [12, 6]},
      "encoding": {"x": {"datum": 2030, "type": "quantitative", "axis": null}}
    },
    {
      "data": {"values": [{}]},
      "mark": {"type": "text", "text": "AR5 2C Scenarios", "color": "#0000FF", "fontSize": 43, "font": "Liberation Sans", "align": "center", "baseline": "middle"},
      "encoding": {"x": {"datum": 2080, "type": "quantitative", "axis": null}, "y": {"datum": 15, "type": "quantitative", "axis": null}}
    }
  ]
}
